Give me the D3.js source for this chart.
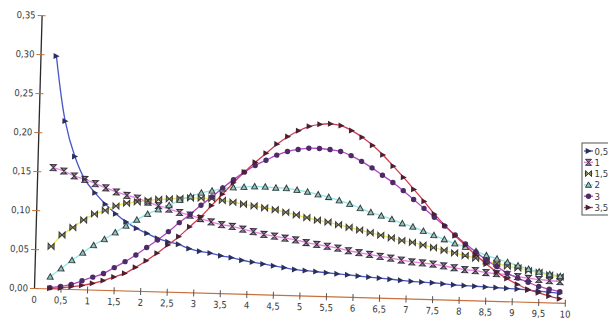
<!DOCTYPE html>
<html>
<head>
<meta charset="utf-8">
<script src="https://cdn.jsdelivr.net/npm/d3@7"></script>
<style>
body { margin: 0; background: #fff; }
svg { display: block; }
text { font-family: "Liberation Sans Narrow", "DejaVu Sans Condensed", sans-serif; fill: #3a3a3a; }
</style>
</head>
<body>
<div id="chart"></div>
<script>
// x positions of the markers
var xValues = [0.3,0.5,0.7,0.9,1.1,1.3,1.5,1.7,1.9,2.1,2.3,2.5,2.7,2.9,3.1,3.3,3.5,3.7,3.9,4.1,4.3,4.5,4.7,4.9,
    5.1,5.3,5.5,5.7,5.9,6.1,6.3,6.5,6.7,6.9,7.1,7.3,7.5,7.7,7.9,8.1,8.3,8.5,8.7,8.9,9.1,9.3,9.5,9.7,9.9];

var seriesNames = ["0,5", "1", "1,5", "2", "3", "3,5"];

var s05 = [0.298,0.215,0.170,0.141,0.124,0.110,0.098,0.088,0.080,0.074,0.068,0.064,0.061,0.056,0.053,0.051,0.048,
    0.046,0.043,0.041,0.039,0.037,0.035,0.033,0.032,0.031,0.030,0.029,0.028,0.027,0.026,0.025,0.024,0.023,0.022,
    0.0215,0.021,0.020,0.019,0.0185,0.018,0.0175,0.017,0.0165,0.016,0.015,0.014,0.013,0.012];
var s1 = [0.155,0.151,0.145,0.141,0.136,0.131,0.126,0.122,0.119,0.114,0.110,0.106,0.102,0.099,0.095,0.091,0.088,
    0.086,0.083,0.080,0.077,0.075,0.073,0.071,0.068,0.066,0.064,0.062,0.059,0.057,0.055,0.053,0.051,0.049,0.047,
    0.046,0.045,0.043,0.041,0.039,0.038,0.036,0.035,0.034,0.032,0.030,0.029,0.028,0.027];
var s15 = [0.054,0.069,0.079,0.089,0.097,0.102,0.108,0.112,0.114,0.116,0.118,0.119,0.120,0.121,0.121,0.121,0.119,
    0.117,0.115,0.113,0.111,0.109,0.106,0.103,0.100,0.097,0.095,0.092,0.089,0.086,0.083,0.080,0.077,0.074,0.072,
    0.069,0.066,0.063,0.060,0.057,0.054,0.051,0.048,0.045,0.043,0.040,0.038,0.035,0.033];
var s2 = [0.015,0.026,0.037,0.047,0.057,0.065,0.074,0.083,0.091,0.099,0.105,0.111,0.118,0.123,0.128,0.131,0.134,
    0.136,0.137,0.138,0.138,0.137,0.137,0.135,0.133,0.130,0.127,0.123,0.119,0.114,0.109,0.105,0.101,0.096,0.092,
    0.087,0.082,0.077,0.072,0.068,0.063,0.058,0.054,0.050,0.046,0.042,0.039,0.036,0.034];
var s3 = [0.001,0.003,0.006,0.011,0.016,0.021,0.029,0.037,0.046,0.056,0.066,0.077,0.089,0.100,0.112,0.123,0.135,
    0.146,0.156,0.165,0.172,0.179,0.184,0.187,0.189,0.189,0.188,0.186,0.181,0.174,0.166,0.157,0.148,0.138,0.127,
    0.116,0.105,0.094,0.083,0.072,0.062,0.052,0.044,0.036,0.030,0.025,0.020,0.017,0.014];
var s35 = [0.000,0.001,0.003,0.005,0.008,0.012,0.017,0.022,0.030,0.039,0.049,0.060,0.071,0.084,0.097,0.112,0.127,
    0.142,0.156,0.169,0.181,0.193,0.203,0.211,0.217,0.220,0.221,0.219,0.213,0.205,0.195,0.183,0.169,0.155,0.140,
    0.125,0.109,0.095,0.082,0.070,0.058,0.047,0.037,0.029,0.022,0.016,0.012,0.008,0.005];

var yTicks = [0, 0.05, 0.10, 0.15, 0.20, 0.25, 0.30, 0.35];
var xTicks = [0,0.5,1,1.5,2,2.5,3,3.5,4,4.5,5,5.5,6,6.5,7,7.5,8,8.5,9,9.5,10];

var allSeries = [s05, s1, s15, s2, s3, s35];
var lineColors = ["#4656c8", "#e67ee0", "#f2e64c", "#8fe6e4", "#b046c4", "#d23a4c"];

var width = 608, height = 322;
var origin = {x: 34, y: 288};

var locale = d3.formatLocale({decimal: ",", thousands: " ", grouping: [3], currency: ["", ""]});
var fmtY = locale.format(".2f");
var fmtX = function(d) { return String(d).replace(".", ","); };

var xScale = d3.scaleLinear().domain([0, 10]).range([origin.x, origin.x + 531]);
var yScale = d3.scaleLinear().domain([0, 0.35]).range([origin.y, origin.y - 273]);

var svg = d3.select("#chart").append("svg")
    .attr("width", width)
    .attr("height", height);

// the scan is turned a little clockwise
var plot = svg.append("g")
    .attr("transform", "rotate(1.6," + origin.x + "," + origin.y + ")");

// x axis
var xAxis = plot.append("g")
    .attr("transform", "translate(0," + origin.y + ")")
    .call(d3.axisBottom(xScale).tickValues(xTicks).tickFormat(fmtX).tickSizeOuter(0).tickSizeInner(4));
xAxis.select(".domain").attr("stroke", "#c8703c").attr("stroke-width", 1.2);
xAxis.selectAll(".tick line").attr("y1", -3).attr("y2", 4).attr("stroke", "#555");
xAxis.selectAll(".tick text").attr("y", 8).style("font-size", "9.5px");
xAxis.selectAll(".tick").filter(d => d === 0).select("line").remove();

// y axis
var yAxis = plot.append("g")
    .attr("transform", "translate(" + origin.x + ",0)")
    .call(d3.axisLeft(yScale).tickValues(yTicks).tickFormat(fmtY).tickSizeOuter(0).tickSizeInner(4));
yAxis.select(".domain").attr("stroke", "#2a2a2a").attr("stroke-width", 1.3);
yAxis.selectAll(".tick line").attr("x1", -4).attr("x2", 4).attr("stroke", "#c0703a");
yAxis.selectAll(".tick text").attr("x", -6).style("font-size", "9.5px");

// series lines
var line = d3.line()
    .x((d, i) => xScale(xValues[i]))
    .y(d => yScale(d))
    .curve(d3.curveCatmullRom);

allSeries.forEach(function(s, k) {
    plot.append("path")
        .attr("d", line(s))
        .attr("fill", "none")
        .attr("stroke", lineColors[k])
        .attr("stroke-width", 1.3);
});

// marker shapes
function drawMarker(g, k) {
    if (k === 0 || k === 5) {
        g.append("path").attr("d", "M-2.8,-3L3.2,0L-2.8,3Z")
            .attr("fill", k === 0 ? "#2c2f5a" : "#4a2032");
    } else if (k === 1) {
        g.append("path").attr("d", "M-3,-3L3,-3L-3,3L3,3Z")
            .attr("fill", "#8a8a8a").attr("stroke", "#3a3040").attr("stroke-width", 1);
    } else if (k === 2) {
        g.append("path").attr("d", "M-3,-3L-3,3L3,-3L3,3Z")
            .attr("fill", "#8a8a70").attr("stroke", "#3a3a30").attr("stroke-width", 1);
    } else if (k === 3) {
        g.append("path").attr("d", "M0,-3L3,2.4L-3,2.4Z")
            .attr("fill", "#9cc0bc").attr("stroke", "#2f4040").attr("stroke-width", 1);
    } else {
        g.append("circle").attr("r", 2.7).attr("fill", "#4c2c66");
    }
}

allSeries.forEach(function(s, k) {
    plot.append("g").selectAll("g")
        .data(s)
        .enter().append("g")
        .attr("transform", (d, i) => "translate(" + xScale(xValues[i]) + "," + yScale(d) + ")")
        .each(function() { drawMarker(d3.select(this), k); });
});

// legend, its box runs past the right edge as in the scan
var legend = svg.append("g").attr("transform", "translate(582,143)");
legend.append("rect")
    .attr("width", 60).attr("height", 72)
    .attr("fill", "#fff").attr("stroke", "#555").attr("stroke-width", 1);
seriesNames.forEach(function(name, k) {
    var row = legend.append("g").attr("transform", "translate(0," + (8 + k * 11.3) + ")");
    row.append("line").attr("x1", 2).attr("x2", 11).attr("stroke", lineColors[k]).attr("stroke-width", 1.3);
    var m = row.append("g").attr("transform", "translate(6.5,0)");
    drawMarker(m, k);
    row.append("text").attr("x", 12.5).attr("y", 3.5).style("font-size", "9.5px").text(name);
});
</script>
</body>
</html>
